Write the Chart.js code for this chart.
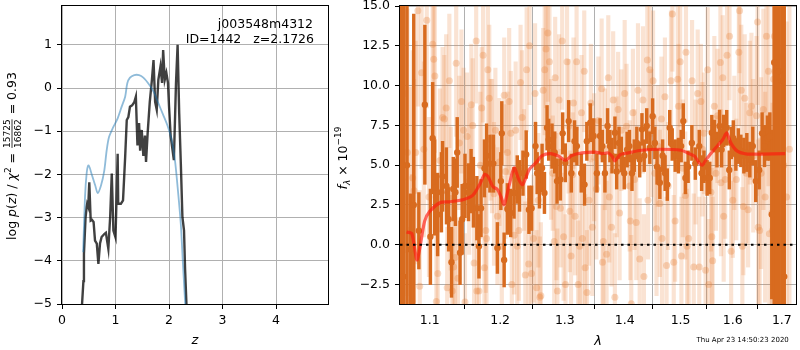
<!DOCTYPE html>
<html>
<head>
<meta charset="utf-8">
<script src="https://cdn.jsdelivr.net/npm/chart.js@4/dist/chart.umd.min.js"></script>
<style>
  body { margin: 0; background: #fff; }
  #figura { position: relative; width: 800px; height: 350px; }
  #pz { position: absolute; left: 0; top: 0; }
  #espectro { position: absolute; left: 330px; top: 0; }
</style>
</head>
<body>
<div id="figura">
  <canvas id="pz" width="340" height="350"></canvas>
  <canvas id="espectro" width="470" height="350"></canvas>
</div>
<script>
// Panel izquierdo: log p(z) y ajuste suavizado
const zPz = [0.37, 0.40, 0.41, 0.44, 0.46, 0.47, 0.49, 0.51, 0.536, 0.56,
  0.59, 0.617, 0.65, 0.68, 0.71, 0.74, 0.79, 0.82, 0.866, 0.90,
  0.93, 0.96, 1.00, 1.04, 1.05, 1.10, 1.14, 1.18, 1.21, 1.24,
  1.27, 1.31, 1.35, 1.38, 1.41, 1.44, 1.46, 1.49, 1.52, 1.55,
  1.57, 1.60, 1.64, 1.68, 1.71, 1.74, 1.77, 1.80, 1.84, 1.87,
  1.89, 1.92, 1.95, 1.98, 2.00, 2.03, 2.09, 2.13, 2.16, 2.19,
  2.22, 2.25, 2.28, 2.30, 2.33];
const logPz = [-5.1, -4.47, -3.84, -3.0, -2.76, -2.68, -2.75, -2.18, -3.07, -3.05,
  -3.1, -3.53, -3.6, -4.07, -3.6, -3.45, -3.38, -3.35, -3.72, -2.98,
  -1.98, -3.3, -3.46, -1.52, -2.68, -2.68, -2.6, -1.6, -0.74, -0.67,
  -0.43, -0.4, -0.33, -0.2, -1.33, -0.81, -1.45, -0.97, -1.57, -1.1,
  -1.71, -1.05, -0.32, 0.19, 0.65, -0.32, -0.5, 0.19, 0.5, 0.12,
  0.88, 0.19, 0.35, 0.12, -0.43, -1.1, -1.67, 0.12, 1.0, -0.59,
  -1.74, -2.99, -3.3, -4.2, -5.16];
const zSuave = [0.395, 0.43, 0.46, 0.49, 0.52, 0.55, 0.62, 0.667, 0.73, 0.79,
  0.835, 0.88, 0.96, 1.04, 1.115, 1.18, 1.22, 1.27, 1.35, 1.44,
  1.52, 1.61, 1.71, 1.80, 1.89, 1.98, 2.05, 2.11, 2.16, 2.22,
  2.26, 2.31];
const logSuave = [-3.8, -2.52, -1.98, -1.79, -1.85, -1.98, -2.25, -2.43, -2.25, -1.91,
  -1.44, -1.13, -0.9, -0.7, -0.43, -0.2, 0.11, 0.24, 0.3, 0.3,
  0.24, 0.11, -0.08, -0.35, -0.62, -0.9, -1.2, -1.67, -2.29, -3.15,
  -4.08, -5.16];
const zTicks = [0, 1, 2, 3, 4];
const pTicks = [-5, -4, -3, -2, -1, 0, 1];

// Panel derecho: espectro binneado (oscuro)
const lamBin = [1.0616, 1.0650, 1.0695, 1.0741, 1.0785, 1.0853, 1.0934, 1.1009, 1.1040, 1.1067,
  1.1108, 1.1160, 1.1176, 1.1230, 1.1260, 1.1300, 1.1325, 1.1355, 1.1380, 1.1420,
  1.1450, 1.1490, 1.1540, 1.1577, 1.1610, 1.1660, 1.1690, 1.1720, 1.1770, 1.1800,
  1.1850, 1.1900, 1.1960, 1.2011, 1.2025, 1.2060, 1.2108, 1.2158, 1.2208, 1.2257,
  1.2292, 1.2344, 1.2393, 1.2435, 1.2476, 1.2537, 1.2562, 1.2598, 1.2639, 1.2676,
  1.2717, 1.2743, 1.2795, 1.2838, 1.2875, 1.2928, 1.2965, 1.3007, 1.3061, 1.3104,
  1.3157, 1.3195, 1.3266, 1.3320, 1.3358, 1.3415, 1.3470, 1.3525, 1.3578, 1.3617,
  1.3660, 1.3705, 1.3745, 1.3780, 1.3830, 1.3860, 1.3900, 1.3940, 1.3990, 1.4040,
  1.4080, 1.4125, 1.4165, 1.4210, 1.4260, 1.4300, 1.4340, 1.4385, 1.4440, 1.4490,
  1.4530, 1.4570, 1.4620, 1.4670, 1.4715, 1.4755, 1.4800, 1.4845, 1.4900, 1.4960,
  1.5010, 1.5050, 1.5090, 1.5140, 1.5210, 1.5275, 1.5350, 1.5395, 1.5440, 1.5500,
  1.5550, 1.5590, 1.5640, 1.5690, 1.5740, 1.5780, 1.5820, 1.5880, 1.5930, 1.5970,
  1.6010, 1.6060, 1.6110, 1.6160, 1.6220, 1.6280, 1.6340, 1.6400, 1.6460, 1.6530,
  1.6590, 1.6640, 1.6700, 1.6750, 1.6790, 1.6840, 1.6890, 1.6940, 1.7000, 1.7050];
const flujoBin = [8.0, -2.0, 5.0, -0.3, 2.5, 0.88, 8.8, 0.5, 6.7, 3.6,
  1.9, 3.3, 4.3, 3.7, 1.6, -1.1, 3.5, 3.3, 5.8, -0.5,
  1.6, 3.7, 3.3, 4.0, 3.3, 2.3, -0.1, 2.3, 4.8, 5.6,
  5.1, 5.1, -0.2, 4.0, 7.0, -0.95, 2.25, 2.0, 3.26, 4.1,
  3.7, 4.5, 5.67, 2.2, 2.3, 6.2, 4.5, 3.7, 4.83, 3.26,
  7.35, 6.6, 6.2, 5.8, 4.0, 4.1, 7.0, 5.15, 7.77, 4.5,
  6.5, 6.2, 4.5, 3.78, 6.5, 7.67, 6.83, 4.5, 6.83, 6.2,
  4.5, 7.46, 6.2, 5.6, 7.04, 4.6, 6.4, 5.67, 4.5, 5.98,
  6.2, 4.5, 5.6, 6.4, 5.35, 7.25, 5.6, 7.46, 6.1, 8.08,
  6.4, 4.9, 3.9, 5.6, 4.5, 3.78, 7.35, 6.3, 5.6, 5.6,
  6.2, 7.77, 4.2, 4.9, 6.4, 5.1, 6.2, 4.5, 4.9, 4.2,
  4.2, 7.04, 6.83, 5.98, 7.46, 5.98, 7.15, 7.35, 4.7, 6.4,
  6.7, 5.67, 6.2, 5.9, 5.6, 5.8, 5.35, 6.2, 4.0, 4.7,
  7.0, 6.2, 6.7, 6.8, 1.9, 11.45, 20.0, 10.9, 10.3, -2.0];
const errBin = [30, 30, 30, 3.5, 12, 2.4, 5.0, 3.0, 3.5, 3.0,
  2.6, 2.5, 2.2, 2.4, 2.0, 2.2, 2.0, 2.1, 2.2, 2.0,
  2.2, 2.0, 1.8, 2.0, 2.2, 2.0, 2.0, 1.8, 1.8, 2.0,
  1.8, 1.8, 1.6, 1.8, 2.0, 1.7, 1.6, 1.5, 1.6, 1.5,
  1.6, 1.4, 1.5, 1.5, 1.4, 1.5, 1.3, 1.4, 1.5, 1.3,
  1.4, 1.3, 1.4, 1.3, 1.4, 1.3, 1.3, 1.2, 1.3, 1.2,
  1.3, 1.2, 1.2, 1.3, 1.2, 1.2, 1.1, 1.2, 1.1, 1.0,
  1.2, 1.1, 1.0, 1.1, 1.0, 1.1, 1.0, 1.1, 1.0, 1.1,
  1.0, 1.1, 1.0, 1.0, 1.1, 1.0, 1.0, 1.1, 1.0, 1.1,
  1.0, 1.1, 1.0, 1.0, 1.1, 1.0, 1.1, 1.0, 1.0, 1.1,
  1.0, 1.1, 1.0, 1.0, 1.1, 1.0, 1.0, 1.1, 1.0, 1.1,
  1.0, 1.1, 1.0, 1.1, 1.0, 1.1, 1.0, 1.1, 1.2, 1.0,
  1.1, 1.0, 1.1, 1.0, 1.1, 1.2, 1.1, 1.2, 1.3, 1.2,
  1.3, 1.3, 1.4, 1.5, 5.3, 30, 30, 30, 30, 30];

// Panel derecho: pixeles sin binnear (claros)
const lamPix = [1.063, 1.066, 1.070, 1.073, 1.076, 1.077, 1.079, 1.081, 1.084, 1.0865,
  1.089, 1.092, 1.096, 1.099, 1.104, 1.1054, 1.107, 1.109, 1.111, 1.114,
  1.1176, 1.120, 1.1226, 1.124, 1.127, 1.129, 1.131, 1.133, 1.135, 1.1366,
  1.139, 1.141, 1.144, 1.147, 1.149, 1.152, 1.155, 1.158, 1.160, 1.162,
  1.165, 1.166, 1.169, 1.171, 1.173, 1.175, 1.177, 1.179, 1.180, 1.182,
  1.184, 1.186, 1.188, 1.191, 1.193, 1.196,
  1.199, 1.2025, 1.2061, 1.208, 1.211, 1.2135, 1.216, 1.2175, 1.221, 1.2233,
  1.2257, 1.2282, 1.2307, 1.233, 1.236, 1.238, 1.240, 1.2431, 1.2445, 1.2475,
  1.2506, 1.253, 1.2555, 1.258, 1.2605, 1.262, 1.2656, 1.268, 1.270, 1.273,
  1.2755, 1.278, 1.2807, 1.283, 1.2845, 1.2865, 1.288, 1.2907, 1.293, 1.2957,
  1.298, 1.301, 1.3035, 1.306, 1.308, 1.310, 1.3125, 1.314, 1.3165, 1.319,
  1.3215, 1.324, 1.327, 1.3285, 1.3315, 1.333, 1.336, 1.3395, 1.3425, 1.345,
  1.348, 1.3515,
  1.355, 1.3605, 1.362, 1.3633, 1.366, 1.3688, 1.3717, 1.3735, 1.3772, 1.380,
  1.3829, 1.386, 1.3885, 1.391, 1.394, 1.3998, 1.403, 1.4084, 1.4095, 1.4112,
  1.4141, 1.417, 1.420, 1.423, 1.426, 1.4318, 1.4335, 1.4395, 1.4408, 1.4438,
  1.4467, 1.4498, 1.453, 1.456, 1.458, 1.462, 1.4649, 1.466, 1.4712, 1.4742,
  1.477, 1.4823, 1.4848, 1.4873, 1.4898, 1.4947, 1.496, 1.4992, 1.5015, 1.504,
  1.5087, 1.510, 1.512, 1.515, 1.5214, 1.5246, 1.528,
  1.532, 1.535, 1.5382, 1.541, 1.544, 1.547, 1.551, 1.553, 1.5573, 1.559,
  1.5606, 1.5639, 1.567, 1.570, 1.5756, 1.5768, 1.5802, 1.582, 1.585, 1.5887,
  1.5935, 1.5967, 1.600, 1.603, 1.607, 1.612, 1.6135, 1.6168, 1.619, 1.621,
  1.6237, 1.627, 1.6305, 1.634, 1.6373, 1.641, 1.6476, 1.6497, 1.651, 1.654,
  1.657, 1.6616, 1.6652, 1.668, 1.6721, 1.674, 1.6791, 1.6805, 1.6827, 1.6845,
  1.6863, 1.6897, 1.693, 1.697, 1.704, 1.710, 1.716];
const flujoPix = [4.1, 9.5, 5.8, 0.9, -3.57, 4.2, 3.4, 5.8, 14.7, -2.6,
  10.8, 6.0, 14.1, 3.0, 12.6, 11.65, 10.6, -3.57, -1.8, 5.3,
  8.0, 7.9, 8.6, -2.7, 10.3, 2.9, -2.9, -1.4, -0.8, 11.4,
  -2.1, 6.4, 9.0, 7.2, -3.6, 6.8, 4.0, 8.8, 7.5, -1.15,
  12.8, -2.9, -2.9, 5.0, 8.6, 11.9, -1.45, 0.9, 0.4, 11.0,
  9.2, 6.6, 6.2, 3.2, 7.2, 1.8,
  5.2, -0.1, 9.4, 4.6, 5.8, 9.0, 7.0, -2.5, 0.6, 7.2,
  -0.1, 0.9, 10.2, 8.0, 4.7, -1.9, 11.0, -1.2, 12.5, -1.8,
  0.4, 9.5, -2.7, 2.8, -3.3, -3.2, 9.7, 11.0, 12.3, 13.3,
  11.5, 6.0, 4.5, 0.2, 10.5, 2.4, -2.9, 9.1, 2.3, 12.8,
  0.5, -2.5, 11.5, 7.45, 2.1, -0.7, 4.4, 8.9, 1.8, 11.5,
  -2.5, -0.1, 8.3, 0.4, 10.9, -1.45, -3.0, 2.8, 8.9, 1.1,
  5.5, 3.5,
  7.8, 9.8, -1.1, 0.2, 6.0, -0.6, 10.5, 3.0, 1.1, 9.1,
  -3.3, 4.9, 8.5, 2.0, 7.2, 9.5, 7.45, 3.7, 1.5, -3.7,
  8.3, 4.1, 1.4, 9.7, -0.9, 9.1, -2.0, 11.6, 2.8, 11.0,
  7.0, 10.3, 4.5, 1.0, 6.2, 2.6, 7.9, 0.4, 9.3, -1.3,
  3.7, 10.3, 14.5, -1.1, 1.5, 10.4, 8.7, 11.5, -0.7, 4.8,
  3.1, 12.1, -0.1, 0.4, 10.3, -1.4, 5.2,
  9.5, -1.4, 9.0, 6.0, 7.0, -1.6, 11.0, -2.5, 3.3, 0.5,
  -1.0, 8.7, 4.5, 8.1, 11.45, 3.9, 10.5, 1.8, 4.1, 11.9,
  13.1, -0.4, 2.8, 6.4, 4.1, 12.1, 14.7, 9.7, -0.1, 2.4,
  9.2, 4.5, 2.2, 8.3, 8.7, 5.6, 8.1, 14.0, 1.1, 0.9,
  4.5, 8.5, 3.0, 13.1, 10.9, 0.7, 2.0, 0.9, 10.4, 13.1,
  10.9, -1.4, -0.1, 11.8, 5.0, 3.0, 6.0];
const errPix = [10, 10, 9, 9, 8, 8, 7, 7, 6, 6,
  6, 5.5, 5.5, 5, 5, 5, 4.8, 4.8, 4.6, 4.5,
  4.4, 4.0, 4.6, 3.8, 4.2, 4.5, 3.9, 4.3, 4.0, 4.6,
  3.8, 4.2, 4.5, 3.9, 4.3, 4.0, 4.6, 3.8, 4.2, 4.5,
  3.9, 4.3, 4.0, 4.6, 3.8, 4.2, 4.5, 3.9, 4.3, 4.0,
  4.6, 3.8, 4.2, 4.5, 3.9, 4.3,
  4.0, 4.4, 3.6, 4.2, 3.8, 4.6, 3.9, 4.1, 3.7, 4.3,
  4.0, 4.4, 3.6, 4.2, 3.8, 4.6, 3.9, 4.1, 3.7, 4.3,
  4.0, 4.4, 3.6, 4.2, 3.8, 4.6, 3.9, 4.1, 3.7, 4.3,
  4.0, 4.4, 3.6, 4.2, 3.8, 4.6, 3.9, 4.1, 3.7, 4.3,
  4.0, 4.4, 3.6, 4.2, 3.8, 4.6, 3.9, 4.1, 3.7, 4.3,
  4.0, 4.4, 3.6, 4.2, 3.8, 4.6, 3.9, 4.1, 3.7, 4.3,
  4.0, 4.4,
  4.0, 4.4, 3.6, 4.2, 3.8, 4.6, 3.9, 4.1, 3.7, 4.3,
  4.0, 4.4, 3.6, 4.2, 3.8, 4.6, 3.9, 4.1, 3.7, 4.3,
  4.0, 4.4, 3.6, 4.2, 3.8, 4.6, 3.9, 4.1, 3.7, 4.3,
  4.0, 4.4, 3.6, 4.2, 3.8, 4.6, 3.9, 4.1, 3.7, 4.3,
  4.0, 4.4, 3.6, 4.2, 3.8, 4.6, 3.9, 4.1, 3.7, 4.3,
  4.0, 4.4, 3.6, 4.2, 3.8, 4.6, 3.9,
  4.0, 4.4, 3.6, 4.2, 3.8, 4.6, 3.9, 4.1, 3.7, 4.3,
  4.0, 4.4, 3.6, 4.2, 3.8, 4.6, 3.9, 4.1, 3.7, 4.3,
  4.0, 4.4, 3.6, 4.2, 3.8, 4.6, 3.9, 4.1, 3.7, 4.3,
  4.0, 4.4, 3.6, 4.5, 4.6, 4.8, 5.0, 5.2, 5.5, 5.8,
  6.0, 6.3, 6.6, 7.0, 7.2, 7.5, 8.0, 8.0, 8.5, 9.0,
  9.0, 9.5, 10, 10, 11, 11, 12];

// Modelo (línea roja)
const lamModelo = [1.069, 1.076, 1.083, 1.093, 1.100, 1.114, 1.127, 1.146, 1.160, 1.170,
  1.177, 1.182, 1.189, 1.196, 1.201, 1.206, 1.213, 1.221, 1.228, 1.234,
  1.244, 1.254, 1.264, 1.277, 1.290, 1.301, 1.311, 1.328, 1.350, 1.361,
  1.372, 1.378, 1.383, 1.392, 1.406, 1.429, 1.465, 1.501, 1.513, 1.526,
  1.535, 1.541, 1.548, 1.564, 1.580, 1.588, 1.596, 1.609, 1.629, 1.656,
  1.707];
const flujoModelo = [0.8, 0.7, -0.95, 1.47, 2.1, 2.64, 2.7, 2.83, 3.1, 3.78,
  4.41, 4.3, 3.67, 3.47, 3.05, 2.52, 3.67, 4.83, 4.1, 3.78,
  4.73, 5.14, 5.6, 5.73, 5.57, 5.3, 5.6, 5.77, 5.82, 5.73,
  5.77, 5.57, 5.27, 5.67, 5.77, 5.94, 6.0, 5.94, 5.77, 5.57,
  5.14, 5.0, 5.35, 6.0, 6.6, 7.03, 6.4, 5.88, 5.7, 5.7,
  5.73];
const lamTicks = [1.1, 1.2, 1.3, 1.4, 1.5, 1.6, 1.7];
const fTicks = [-2.5, 0, 2.5, 5, 7.5, 10, 12.5, 15];

// Límites de los ejes
const Z_MIN = 0, Z_MAX = 4.97, P_MIN = -5, P_MAX = 1.9;
const LAM_MIN = 1.0603, LAM_MAX = 1.730, F_MIN = -3.72, F_MAX = 15.0;

Chart.defaults.font.family = 'DejaVu Sans';
Chart.defaults.font.size = 12.5;
Chart.defaults.color = '#000';

const FUENTE = '"DejaVu Sans"';
const conMenos = s => String(s).replace('-', '\u2212');
const puntos = (xs, ys) => xs.map((x, i) => ({ x: x, y: ys[i] }));
const barras = (xs, ys, es) => xs.map((x, i) => ({ x: x, y: [ys[i] - es[i], ys[i] + es[i]] }));

const rejilla = { color: '#b0b0b0', lineWidth: 1, tickColor: '#000', tickLength: 5 };

// marco negro alrededor del área de dibujo
const marco = {
    id: 'marco',
    afterDatasetsDraw(chart) {
        const { ctx, chartArea: a } = chart;
        ctx.save();
        ctx.strokeStyle = '#000';
        ctx.lineWidth = 1;
        ctx.strokeRect(a.left - 0.5, a.top - 0.5, a.right - a.left + 1, a.bottom - a.top + 1);
        ctx.restore();
    }
};

function anchoTrozo(ctx, p) {
    ctx.font = p.f;
    if (p.frac) return Math.max(ctx.measureText(p.frac[0]).width, ctx.measureText(p.frac[1]).width) + 2;
    return ctx.measureText(p.t).width;
}

// texto vertical con trozos (cursivas, subíndices, fracción)
function textoVertical(ctx, xBase, yCentro, trozos) {
    ctx.save();
    const total = trozos.reduce((s, p) => s + anchoTrozo(ctx, p), 0);
    ctx.translate(xBase, yCentro + total / 2);
    ctx.rotate(-Math.PI / 2);
    ctx.fillStyle = '#000';
    ctx.strokeStyle = '#000';
    ctx.textBaseline = 'alphabetic';
    let x = 0;
    trozos.forEach(p => {
        const w = anchoTrozo(ctx, p);
        ctx.font = p.f;
        if (p.frac) {
            ctx.textAlign = 'center';
            ctx.fillText(p.frac[0], x + w / 2, -5.5);
            ctx.fillText(p.frac[1], x + w / 2, 5);
            ctx.lineWidth = 0.8;
            ctx.beginPath();
            ctx.moveTo(x + 1, -3.5);
            ctx.lineTo(x + w - 1, -3.5);
            ctx.stroke();
            ctx.textAlign = 'left';
        } else {
            ctx.textAlign = 'left';
            ctx.fillText(p.t, x, p.dy || 0);
        }
        x += w;
    });
    ctx.restore();
}

const normal = '12.5px ' + FUENTE;
const cursiva = 'italic 12.5px ' + FUENTE;
const chica = '9px ' + FUENTE;

const textosPz = {
    id: 'textosPz',
    afterDraw(chart) {
        const ctx = chart.ctx;
        textoVertical(ctx, 15.5, 156, [
            { t: 'log ', f: normal }, { t: 'p', f: cursiva }, { t: '(', f: normal },
            { t: 'z', f: cursiva }, { t: ') / ', f: normal }, { t: 'χ', f: cursiva },
            { t: '2', f: chica, dy: -5 }, { t: ' = ', f: normal },
            { frac: ['15725', '16862'], f: chica }, { t: ' = 0.93', f: normal }
        ]);
        ctx.save();
        ctx.font = normal;
        ctx.fillStyle = '#000';
        ctx.textAlign = 'right';
        ctx.fillText('j003548m4312', 313, 28);
        ctx.fillText('ID=1442   z=2.1726', 314, 42.5);
        ctx.restore();
    }
};

const textosEspectro = {
    id: 'textosEspectro',
    afterDraw(chart) {
        const ctx = chart.ctx;
        textoVertical(ctx, 17, 158, [
            { t: 'f', f: cursiva }, { t: 'λ', f: 'italic 9px ' + FUENTE, dy: 3 },
            { t: ' × 10', f: normal }, { t: '−19', f: chica, dy: -6 }
        ]);
        ctx.save();
        ctx.font = '7px ' + FUENTE;
        ctx.fillStyle = '#000';
        ctx.textAlign = 'left';
        ctx.fillText('Thu Apr 23 14:50:23 2020', 366.5, 342);
        ctx.restore();
    }
};

// Gráfico izquierdo
new Chart(document.getElementById('pz'), {
    type: 'scatter',
    data: {
        datasets: [{
            type: 'line',
            data: puntos(zSuave, logSuave),
            borderColor: 'rgba(31,119,180,0.5)',
            borderWidth: 1.8,
            pointRadius: 0,
            tension: 0.3,
            clip: 0
        }, {
            type: 'line',
            data: puntos(zPz, logPz),
            borderColor: 'rgba(0,0,0,0.75)',
            borderWidth: 2.4,
            pointRadius: 0,
            tension: 0,
            clip: 0
        }]
    },
    options: {
        responsive: false,
        animation: false,
        layout: { padding: { left: 0, top: 6, right: 12, bottom: 0 } },
        plugins: { legend: { display: false }, tooltip: { enabled: false } },
        scales: {
            x: {
                type: 'linear', min: Z_MIN, max: Z_MAX,
                afterBuildTicks: s => { s.ticks = zTicks.map(v => ({ value: v })); },
                afterFit: s => { s.height = 46; s.paddingLeft = 0; s.paddingRight = 0; },
                grid: rejilla,
                border: { display: false },
                ticks: { padding: 4, maxRotation: 0, autoSkip: false, callback: v => conMenos(v) },
                title: { display: true, text: 'z', font: { style: 'italic', size: 13 }, padding: { top: 0, bottom: 2 } }
            },
            y: {
                min: P_MIN, max: P_MAX,
                afterBuildTicks: s => { s.ticks = pTicks.map(v => ({ value: v })); },
                afterFit: s => { s.width = 62; s.paddingTop = 0; s.paddingBottom = 0; },
                grid: rejilla,
                border: { display: false },
                ticks: { padding: 5, autoSkip: false, callback: v => conMenos(v) }
            }
        }
    },
    plugins: [marco, textosPz]
});

// Gráfico derecho
new Chart(document.getElementById('espectro'), {
    type: 'scatter',
    data: {
        datasets: [{
            type: 'line',
            data: [{ x: LAM_MIN, y: 0 }, { x: LAM_MAX, y: 0 }],
            borderColor: '#000',
            borderWidth: 2,
            borderDash: [2.5, 4],
            pointRadius: 0,
            clip: 0
        }, {
            type: 'line',
            data: puntos(lamModelo, flujoModelo),
            borderColor: 'rgba(255,25,15,0.65)',
            borderWidth: 3.2,
            pointRadius: 0,
            tension: 0.25,
            clip: 0
        }, {
            type: 'scatter',
            data: puntos(lamBin, flujoBin),
            backgroundColor: '#d86b1f',
            borderWidth: 0,
            pointRadius: 3.2,
            clip: 0
        }, {
            type: 'bar',
            data: barras(lamBin, flujoBin, errBin),
            backgroundColor: '#d86b1f',
            borderWidth: 0,
            barThickness: 2.8,
            grouped: false,
            clip: 0
        }, {
            type: 'scatter',
            data: puntos(lamPix, flujoPix),
            backgroundColor: 'rgba(232,128,55,0.3)',
            borderWidth: 0,
            pointRadius: 3.5,
            clip: 0
        }, {
            type: 'bar',
            data: barras(lamPix, flujoPix, errPix),
            backgroundColor: 'rgba(232,128,55,0.22)',
            borderWidth: 0,
            barThickness: 3.5,
            grouped: false,
            clip: 0
        }]
    },
    options: {
        responsive: false,
        animation: false,
        layout: { padding: { left: 0, top: 6, right: 1, bottom: 0 } },
        plugins: { legend: { display: false }, tooltip: { enabled: false } },
        scales: {
            x: {
                type: 'logarithmic', min: LAM_MIN, max: LAM_MAX,
                afterBuildTicks: s => { s.ticks = lamTicks.map(v => ({ value: v })); },
                afterFit: s => { s.height = 46; s.paddingLeft = 0; s.paddingRight = 0; },
                grid: rejilla,
                border: { display: false },
                ticks: { padding: 4, maxRotation: 0, autoSkip: false, callback: v => v.toFixed(1) },
                title: { display: true, text: 'λ', font: { style: 'italic', size: 13 }, padding: { top: 0, bottom: 1 } }
            },
            y: {
                type: 'linear', min: F_MIN, max: F_MAX,
                afterBuildTicks: s => { s.ticks = fTicks.map(v => ({ value: v })); },
                afterFit: s => { s.width = 70; s.paddingTop = 0; s.paddingBottom = 0; },
                grid: rejilla,
                border: { display: false },
                ticks: { padding: 5, autoSkip: false, callback: v => conMenos(v.toFixed(1)) }
            }
        }
    },
    plugins: [marco, textosEspectro]
});
</script>
</body>
</html>
